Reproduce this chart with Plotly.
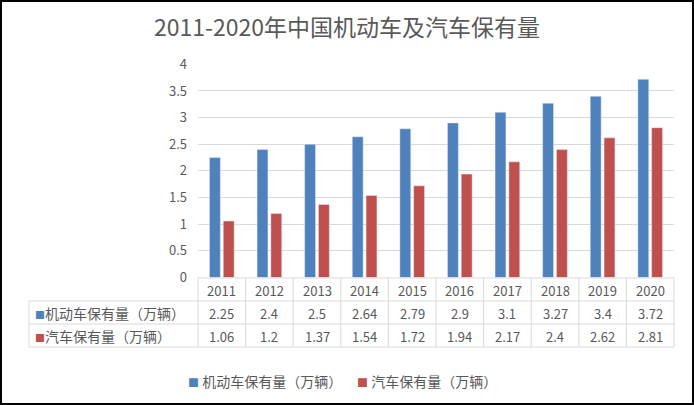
import plotly.graph_objects as go

# data
years = ['2011', '2012', '2013', '2014', '2015', '2016', '2017', '2018', '2019', '2020']
motor_vehicles = [2.25, 2.4, 2.5, 2.64, 2.79, 2.9, 3.1, 3.27, 3.4, 3.72]
cars = [1.06, 1.2, 1.37, 1.54, 1.72, 1.94, 2.17, 2.4, 2.62, 2.81]
series_names = ['机动车保有量（万辆）', '汽车保有量（万辆）']
series_colors = ['#4F81BD', '#C0504D']

W, H = 694, 405
FONT = 'Noto Sans CJK SC'
GREY = '#595959'
LINE = '#D9D9D9'
COL_W = 47.6


def px_x(p):
    return p / W


def px_y(p):
    return 1 - p / H


fig = go.Figure()
for name, vals, col in zip(series_names, [motor_vehicles, cars], series_colors):
    fig.add_trace(go.Bar(x=years, y=vals, name=name, marker_color=col, showlegend=False))

# data table under the plot
row_tops = [278, 301, 324, 347]
shapes = []
for i, top in enumerate(row_tops):
    x0 = 198 if i == 0 else 29
    shapes.append(dict(type='line', xref='paper', yref='paper',
                       x0=px_x(x0), x1=px_x(674), y0=px_y(top), y1=px_y(top),
                       line=dict(color=LINE, width=1)))
for k in range(len(years) + 1):
    shapes.append(dict(type='line', xref='paper', yref='paper',
                       x0=px_x(198 + k * COL_W), x1=px_x(198 + k * COL_W),
                       y0=px_y(278), y1=px_y(347),
                       line=dict(color=LINE, width=1)))
shapes.append(dict(type='line', xref='paper', yref='paper',
                   x0=px_x(29), x1=px_x(29), y0=px_y(301), y1=px_y(347),
                   line=dict(color=LINE, width=1)))
# outer border
shapes.append(dict(type='rect', xref='paper', yref='paper',
                   x0=px_x(1), x1=px_x(693), y0=px_y(404), y1=px_y(1),
                   line=dict(color='black', width=2)))

annotations = []


def label(x, y, text, size=13, xanchor='center'):
    annotations.append(dict(x=x, xref='paper', y=y, yref='paper', text=text,
                            xanchor=xanchor, yanchor='middle', showarrow=False,
                            font=dict(family=FONT, size=size, color=GREY)))


for j, yr in enumerate(years):
    cx = px_x(198 + (j + 0.5) * COL_W)
    label(cx, px_y(290), yr)
    for r, vals in enumerate([motor_vehicles, cars]):
        label(cx, px_y(313 + 23 * r), f'{vals[j]:g}')
for r, (name, col) in enumerate(zip(series_names, series_colors)):
    label(px_x(33), px_y(313 + 23 * r),
          f"<span style='color:{col};font-size:10px'>■</span>{name}", size=14, xanchor='left')

# legend drawn as text
legend_x = [186, 355]
for name, col, lx in zip(series_names, series_colors, legend_x):
    label(px_x(lx), px_y(381),
          f"<span style='color:{col};font-size:11px'>■</span> {name}", size=14, xanchor='left')

fig.update_layout(
    width=W, height=H,
    margin=dict(l=0, r=0, t=0, b=0, autoexpand=False),
    paper_bgcolor='white', plot_bgcolor='white',
    font=dict(family=FONT, color=GREY),
    title=dict(text='2011-2020年中国机动车及汽车保有量', x=0.5, xanchor='center',
               y=px_y(28), yanchor='middle', font=dict(family=FONT, size=23, color=GREY)),
    barmode='group', bargap=0.42, bargroupgap=0.21,
    xaxis=dict(type='category', domain=[px_x(198), px_x(674)], showticklabels=False,
               range=[-0.5, len(years) - 0.5], automargin=False,
               showgrid=False, zeroline=False, showline=False),
    yaxis=dict(range=[0, 4], dtick=0.5, domain=[px_y(277.5), px_y(64.3)],
               gridcolor=LINE, zeroline=False, showline=False, automargin=False,
               tickfont=dict(family=FONT, size=13, color=GREY), ticklabelstandoff=10),
    shapes=shapes, annotations=annotations,
)

fig.write_html('out.html', config={'displayModeBar': False},
               post_script="document.body.style.margin='0';")
